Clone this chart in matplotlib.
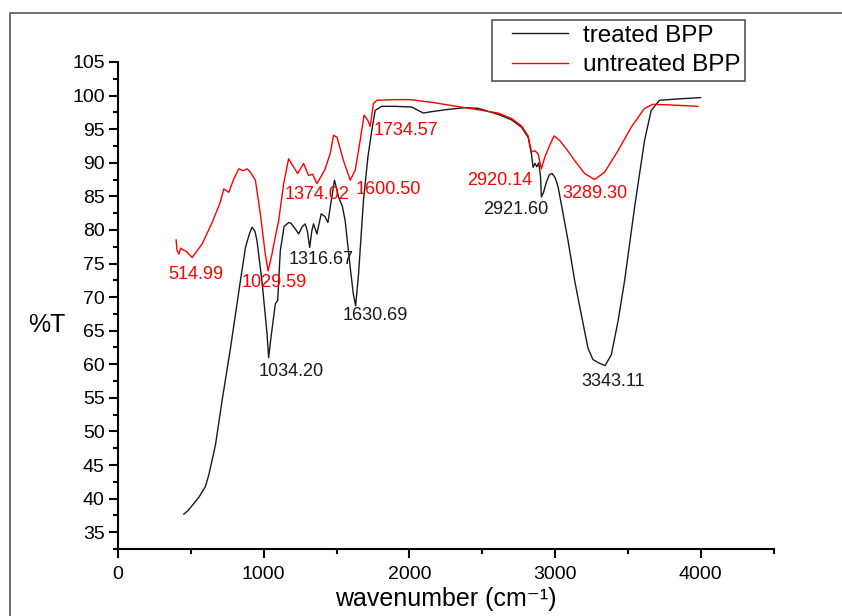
import matplotlib
matplotlib.use("Agg")
import matplotlib.pyplot as plt
from matplotlib.patches import Rectangle
from matplotlib.ticker import MultipleLocator
from matplotlib.legend_handler import HandlerLine2D

plt.rcParams['font.family'] = ['Liberation Sans', 'DejaVu Sans']

# treated BPP (black)
treated_wn = [452, 480, 510, 555, 600, 623, 669, 713, 772, 806, 840, 875, 900, 920, 940, 954, 988,
              1010, 1023, 1034, 1050, 1080, 1096, 1114, 1140, 1171, 1187, 1215, 1240, 1265, 1285, 1300,
              1316, 1330, 1342, 1365, 1395, 1420, 1441, 1457, 1486, 1500, 1514, 1540, 1559, 1594,
              1615, 1631, 1651, 1685, 1715, 1742, 1765, 1810, 1900, 2016, 2060, 2096, 2150, 2250,
              2381, 2473, 2610, 2700, 2769, 2815, 2838, 2849, 2862, 2875, 2888, 2900, 2906, 2921,
              2940, 2960, 2979, 3000, 3021, 3050, 3089, 3135, 3180, 3226, 3260, 3300, 3343, 3386,
              3432, 3477, 3546, 3614, 3660, 3717, 3780, 3842, 3920, 3999]
treated_t = [37.7, 38.2, 39.0, 40.2, 41.8, 43.5, 48.0, 54.4, 62.4, 67.4, 72.4, 77.4, 79.3, 80.4, 79.8, 78.4, 72.4,
             67.5, 64.5, 61.0, 64.0, 69.0, 69.5, 76.9, 80.5, 81.1, 81.0, 80.2, 79.4, 80.5, 80.9, 79.8,
             77.4, 79.8, 80.9, 79.4, 82.4, 82.0, 81.1, 83.4, 87.4, 86.2, 84.9, 83.5, 81.4, 74.4,
             70.5, 68.7, 73.4, 84.4, 90.8, 94.8, 97.8, 98.4, 98.4, 98.3, 97.8, 97.4, 97.6, 97.9,
             98.2, 98.1, 97.2, 96.4, 95.3, 93.8, 91.3, 89.3, 89.9, 89.4, 90.0, 88.0, 84.9, 85.6,
             87.1, 88.2, 88.4, 87.8, 86.4, 83.0, 78.4, 72.4, 67.4, 62.4, 60.7, 60.2, 59.8, 61.4,
             66.4, 72.4, 83.4, 93.3, 97.8, 99.3, 99.4, 99.5, 99.6, 99.7]

# untreated BPP (red)
untreated_wn = [399, 405, 418, 430, 440, 470, 509, 540, 577, 646, 700, 726, 760, 795, 829, 860, 886, 909,
                943, 977, 1011, 1030, 1057, 1080, 1103, 1137, 1171, 1187, 1233, 1274, 1308, 1336, 1365,
                1395, 1422, 1457, 1479, 1503, 1548, 1594, 1628, 1662, 1689, 1715, 1731, 1753, 1776,
                1900, 2005, 2153, 2381, 2610, 2700, 2769, 2815, 2838, 2861, 2884, 2906, 2929, 2963,
                2993, 3032, 3080, 3135, 3203, 3272, 3340, 3432, 3523, 3614, 3671, 3797, 3979]
untreated_t = [78.5, 77.0, 76.4, 77.3, 77.1, 76.8, 75.9, 76.8, 77.9, 81.1, 84.0, 86.1, 85.6, 87.6, 89.1, 88.8, 89.1, 88.6,
               87.4, 82.4, 76.4, 73.9, 76.4, 79.0, 81.4, 86.9, 90.6, 90.0, 88.4, 89.9, 88.1, 88.3, 86.9,
               88.0, 89.1, 91.4, 94.1, 93.8, 90.3, 87.4, 88.9, 93.3, 97.1, 96.3, 95.4, 98.8, 99.3,
               99.4, 99.4, 99.0, 98.2, 97.4, 96.6, 95.5, 94.0, 91.6, 91.8, 91.3, 89.1, 90.8, 92.6,
               94.0, 93.3, 92.0, 90.3, 88.4, 87.5, 88.6, 91.8, 95.3, 98.1, 98.7, 98.6, 98.4]

# peak annotations: (text, x, y)
red_labels = ["514.99", "1029.59", "1374.02", "1600.50", "1734.57", "2920.14", "3289.30"]
red_label_x = [532, 1075, 1365, 1852, 1975, 2623, 3272]
red_label_y = [73.4, 72.1, 85.3, 86.0, 94.8, 87.4, 85.4]
black_labels = ["1316.67", "1630.69", "1034.20", "2921.60", "3343.11"]
black_label_x = [1395, 1769, 1189, 2728, 3397]
black_label_y = [75.6, 67.2, 58.9, 83.0, 57.5]

fig = plt.figure(figsize=(8.42, 6.16), dpi=100)
ax = fig.add_axes([118/842, 1-549/616, (773.6-118)/842, (549-62)/616])

ax.plot(treated_wn, treated_t, color='#1a1a1a', lw=1.0, label='treated BPP')
ax.plot(untreated_wn, untreated_t, color='#ff0000', lw=1.0, label='untreated BPP')

for t, x, y in zip(red_labels, red_label_x, red_label_y):
    ax.text(x, y, t, color='#ff0000', fontsize=13, ha='center', va='center')
for t, x, y in zip(black_labels, black_label_x, black_label_y):
    ax.text(x, y, t, color='#1a1a1a', fontsize=13, ha='center', va='center')

ax.set_xlim(0, 4500)
ax.set_ylim(32.5, 105)
ax.xaxis.set_major_locator(MultipleLocator(1000))
ax.xaxis.set_minor_locator(MultipleLocator(500))
ax.yaxis.set_major_locator(MultipleLocator(5))
ax.yaxis.set_minor_locator(MultipleLocator(2.5))
ax.spines['top'].set_visible(False)
ax.spines['right'].set_visible(False)
for s in ('left', 'bottom'):
    ax.spines[s].set_linewidth(1.5)
ax.tick_params(which='major', direction='out', length=6.5, width=1.5, labelsize=14)
ax.tick_params(axis='x', which='major', pad=5.5)
ax.tick_params(axis='y', which='major', pad=3)
ax.tick_params(which='minor', direction='out', length=3.5, width=1.5)

ax.set_xlabel('wavenumber (cm\u207b\u00b9)', fontsize=18, labelpad=3)
ax.set_ylabel('%T', fontsize=18, rotation=0, va='center')
ax.yaxis.set_label_coords(-0.108, 0.46)

leg = ax.legend(loc='upper left', bbox_to_anchor=(492/842, 1-20/616), bbox_transform=fig.transFigure,
                fontsize=17.5, frameon=True, fancybox=False, framealpha=1, edgecolor='#555555',
                numpoints=2, handlelength=3.54, handletextpad=0.0, borderpad=0.2, labelspacing=0.3,
                borderaxespad=0, handler_map={plt.Line2D: HandlerLine2D(marker_pad=0.62, numpoints=2)})
leg.get_frame().set_linewidth(1.2)

# outer frame
fig.patches.append(Rectangle((10/842, -0.2), 2.0, 1.2 - 13/616, transform=fig.transFigure,
                             fill=False, edgecolor='#555555', lw=1.2, clip_on=False))

fig.savefig('out.png', dpi=100)
